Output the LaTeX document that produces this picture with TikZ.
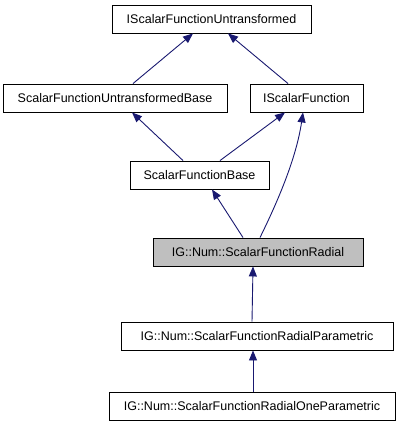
\documentclass[tikz,border=0pt]{standalone}
\usepackage{fontspec}
\setmainfont{Liberation Sans}
\usetikzlibrary{arrows.meta}
\definecolor{edgeblue}{RGB}{25,25,112}
\definecolor{graybox}{RGB}{191,191,191}
\begin{document}
\begin{tikzpicture}[x=1pt,y=-1pt,
  cls/.style={draw=black,line width=0.9pt,fill=white,minimum height=28pt,inner sep=0pt,font=\fontsize{12.5}{14}\selectfont},
  edge/.style={draw=edgeblue,line width=0.9pt,-{Triangle[length=10pt,width=8pt]}}]
\useasboundingbox (0,0) rectangle (403,427);
\node[cls,minimum width=199pt] (n1) at (211.5,19) {IScalarFunctionUntransformed};
\node[cls,minimum width=224pt] (n2) at (115,98) {ScalarFunctionUntransformedBase};
\node[cls,minimum width=113pt] (n3) at (306.5,98) {IScalarFunction};
\node[cls,minimum width=139pt] (n4) at (199.5,175) {ScalarFunctionBase};
\node[cls,minimum width=210pt,fill=graybox] (n5) at (258,252) {IG::Num::ScalarFunctionRadial};
\node[cls,minimum width=272pt] (n6) at (257,336) {IG::Num::ScalarFunctionRadialParametric};
\node[cls,minimum width=286pt] (n7) at (252,406) {IG::Num::ScalarFunctionRadialOneParametric};
\draw[edge] ([xshift=18pt]n2.north) -- ([xshift=-18.5pt]n1.south);
\draw[edge] ([xshift=-18.5pt]n3.north) -- ([xshift=16.5pt]n1.south);
\draw[edge] ([xshift=-16.5pt]n4.north) -- ([xshift=17pt]n2.south);
\draw[edge] ([xshift=20.5pt]n4.north) -- ([xshift=-21.5pt]n3.south);
\draw[edge] ([xshift=2pt]n5.north) .. controls (276,205) and (296,160) .. ([xshift=-3.5pt]n3.south);
\draw[edge] ([xshift=-15pt]n5.north) -- ([xshift=12.5pt]n4.south);
\draw[edge] ([xshift=-5pt]n6.north) -- ([xshift=-5pt]n5.south);
\draw[edge] ([xshift=1pt]n7.north) -- ([xshift=-4pt]n6.south);
\end{tikzpicture}
\end{document}
